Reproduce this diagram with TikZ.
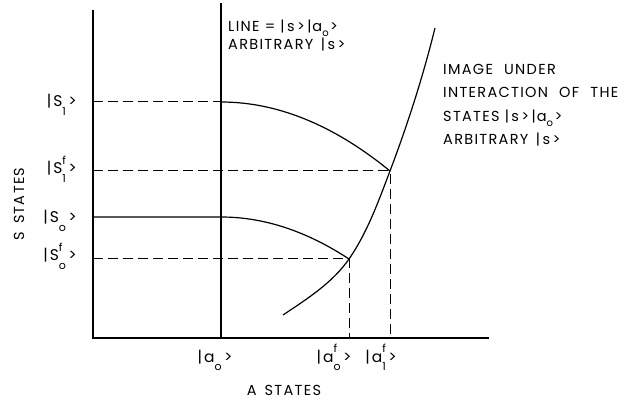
\documentclass[tikz,border=0pt]{standalone}
\usepackage{fontspec}
\setmainfont{Poppins}[LetterSpace=9]
\usetikzlibrary{positioning}

% ket with a subscript and a superscript stacked
\newcommand\kt[3]{|\hspace{2pt}#1\rlap{\raisebox{1.15ex}{\fontsize{11}{11}\selectfont #3}}\raisebox{-1ex}{\fontsize{11}{11}\selectfont #2}\hspace{2.5pt}>}
% smaller ket inside the texts
\newcommand\ktin[2]{|\hspace{1pt}#1\raisebox{-0.55ex}{\fontsize{10}{10}\selectfont #2}\hspace{1.5pt}>}

\begin{document}
\begin{tikzpicture}[x=1pt,y=-1pt,
  axisline/.style={line width=1.2pt},
  guide/.style={line width=1pt,dash pattern=on 10pt off 5pt},
  curve/.style={line width=1.2pt},
  txt/.style={font=\fontsize{14.5}{16}\selectfont,inner sep=0pt},
  ketlbl/.style={font=\fontsize{15.5}{17}\selectfont,inner sep=0pt}]
  \useasboundingbox (0,0) rectangle (627,406);
  % axes and the |a_o> line
  \coordinate (O) at (93,338); \coordinate (ytop) at (93,10); \coordinate (xend) at (489,338);
  \coordinate (a0top) at (221,3); \coordinate (a0) at (221,338);
  \draw[axisline] (ytop) -- (O) -- (xend);
  \draw[curve] (a0top) -- (a0);
  % s levels
  \coordinate (s1) at (93,102); \coordinate (p1) at (221,102);
  \coordinate (s1f) at (93,171); \coordinate (q1) at (390,171); \coordinate (a1f) at (390,338);
  \coordinate (s0) at (93,217); \coordinate (p0) at (221,217);
  \coordinate (s0f) at (93,259); \coordinate (q0) at (349,259); \coordinate (a0f) at (349,338);
  \draw[guide] (s1) -- (p1);
  \draw[curve] (p1) .. controls +(56.3,0) and +(-56.3,-46) .. (q1);
  \draw[guide] (s1f) -- (q1) -- (a1f);
  \draw[curve] (s0) -- (p0) .. controls +(42.7,0) and +(-42.7,-28) .. (q0);
  \draw[guide] (s0f) -- (q0) -- (a0f);
  % image curve
  \coordinate (imgbot) at (283,315); \coordinate (imgtop) at (435,28);
  \draw[curve] (imgbot) .. controls +(24,-16) and +(-16.5,23.8) .. (q0)
    .. controls +(18.2,-26.2) and +(-11.4,30) .. (q1)
    .. controls +(17.7,-46.7) and +(-12,48.5) .. (imgtop);
  % labels on the s axis
  \node[ketlbl,anchor=base east] (k1) at (77,107) {\kt{S}{1}{}};
  \node[ketlbl,anchor=base east] (k1f) at (77,174) {\kt{S}{1}{f}};
  \node[ketlbl,anchor=base east] (k0) at (77,223) {\kt{S}{o}{}};
  \node[ketlbl,anchor=base east] (k0f) at (77,261) {\kt{S}{o}{f}};
  \node[txt,rotate=90] (sax) at (19,204) {S\hspace{8pt}STATES};
  % labels on the a axis
  \node[ketlbl,anchor=base] (ka0) at (215,362) {\kt{a}{o}{}};
  \node[ketlbl,anchor=base] (ka0f) at (334,362) {\kt{a}{o}{f}};
  \node[ketlbl,anchor=base] (ka1f) at (381,362) {\kt{a}{1}{f}};
  \node[txt,anchor=base] (aax) at (284,395) {A\hspace{8pt}STATES};
  % texts
  \node[txt,anchor=base west] (line1) at (228,32) {LINE = |\,s\,>\,\ktin{a}{o}};
  \node[txt,anchor=base west] (line2) at (228,50) {ARBITRARY \,|\,s\,>};
  \node[txt,anchor=base west] (img1) at (443,75) {IMAGE\hspace{6pt} UNDER};
  \node[txt,anchor=base west] (img2) at (443,98) {INTERACTION\hspace{6pt} OF\hspace{6pt} THE};
  \node[txt,anchor=base west] (img3) at (443,122) {STATES |\,s\,>\,\ktin{a}{o}};
  \node[txt,anchor=base west] (img4) at (443,145) {ARBITRARY \,|\,s\,>};
\end{tikzpicture}
\end{document}
